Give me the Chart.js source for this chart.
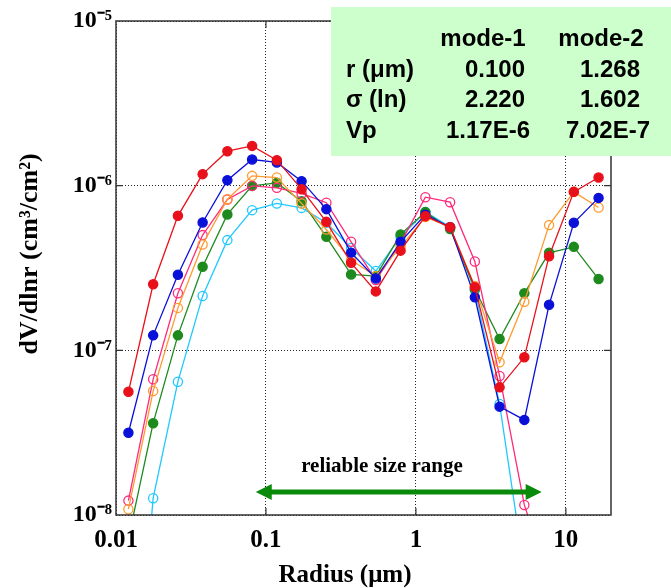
<!DOCTYPE html>
<html><head><meta charset="utf-8">
<script src="https://cdn.jsdelivr.net/npm/chart.js@4.4.1/dist/chart.umd.min.js"></script>
<style>html,body{margin:0;padding:0;background:#fff;}canvas{display:block;}</style>
</head><body>
<canvas id="c" width="671" height="588"></canvas>
<script>
// ---- data ----
const radius = [0.0121, 0.01769, 0.02587, 0.03782, 0.0553, 0.08086, 0.11823, 0.17288, 0.2528, 0.36964,
                0.54049, 0.79031, 1.1562, 1.6906, 2.472, 3.6147, 5.2855, 7.7286, 11.301, 16.525];
const seriesRed    = [5.6e-8, 2.52e-7, 6.56e-7, 1.175e-6, 1.62e-6, 1.744e-6, 1.428e-6, 9.52e-7, 6.03e-7, 3.40e-7,
                      2.28e-7, 4.03e-7, 6.53e-7, 5.60e-7, 2.42e-7, 5.96e-8, 9.07e-8, 3.73e-7, 9.17e-7, 1.12e-6];
const seriesBlue   = [3.16e-8, 1.233e-7, 2.88e-7, 5.98e-7, 1.08e-6, 1.442e-6, 1.383e-6, 1.065e-6, 7.20e-7, 3.92e-7,
                      2.73e-7, 4.56e-7, 6.67e-7, 5.60e-7, 2.10e-7, 4.55e-8, 3.78e-8, 1.89e-7, 5.95e-7, 8.43e-7];
const seriesOrange = [1.084e-8, 5.66e-8, 1.81e-7, 4.39e-7, 8.28e-7, 1.147e-6, 1.12e-6, 7.80e-7, 5.42e-7, 3.53e-7,
                      2.82e-7, 4.25e-7, 6.46e-7, 5.60e-7, 2.455e-7, 8.46e-8, 1.97e-7, 5.76e-7, 9.17e-7, 7.37e-7];
const seriesPink   = [1.223e-8, 6.67e-8, 2.22e-7, 5.01e-7, 8.25e-7, 9.97e-7, 9.70e-7, 8.97e-7, 7.88e-7, 4.56e-7,
                      2.67e-7, 4.48e-7, 8.51e-7, 7.94e-7, 3.46e-7, 6.98e-8, 1.151e-8, 4.0e-9, null, null];
const seriesGreen  = [7.2e-9, 3.61e-8, 1.233e-7, 3.22e-7, 6.69e-7, 9.97e-7, 1.04e-6, 8.05e-7, 4.89e-7, 2.89e-7,
                      2.82e-7, 5.06e-7, 6.91e-7, 5.45e-7, 2.36e-7, 1.171e-7, 2.22e-7, 3.91e-7, 4.25e-7, 2.71e-7];
const seriesCyan   = [2.0e-10, 1.265e-8, 6.45e-8, 2.14e-7, 4.67e-7, 7.10e-7, 7.80e-7, 7.33e-7, 5.95e-7, 4.18e-7,
                      3.03e-7, 4.89e-7, 6.93e-7, 5.62e-7, 2.32e-7, 4.72e-8, 4.6e-9, null, null, null];

const xTickValues = [0.01, 0.1, 1, 10];
const xTickLabels = ['0.01', '0.1', '1', '10'];
const yTickValues = [1e-8, 1e-7, 1e-6, 1e-5];
const yTickLabels = ['10\u207B\u2078', '10\u207B\u2077', '10\u207B\u2076', '10\u207B\u2075'];
const xTitle = 'Radius (\u03BCm)';
const yTitle = 'dV/dlnr (cm\u00B3/cm\u00B2)';

const tableHeader = ['mode-1', 'mode-2'];
const tableRowLabels = ['r (\u03BCm)', '\u03C3 (ln)', 'Vp'];
const tableMode1 = ['0.100', '2.220', '1.17E-6'];
const tableMode2 = ['1.268', '1.602', '7.02E-7'];

const arrowLabel = 'reliable size range';
const arrowRange = [0.0855, 6.9];
const arrowLevel = 1.38e-8;

// ---- build ----
function pts(arr) { return radius.map((r, i) => ({x: r, y: arr[i]})); }
function ds(label, arr, color, filled) {
  return {
    label, data: pts(arr), borderColor: color,
    backgroundColor: filled ? color : 'rgba(255,255,255,0)',
    pointBackgroundColor: filled ? color : 'rgba(255,255,255,0)',
    pointBorderColor: color, pointRadius: 4.6, pointBorderWidth: 1.3,
    borderWidth: 1.3, showLine: true, tension: 0, spanGaps: false
  };
}

const serifBold = "'Liberation Serif', 'Times New Roman', serif";
const sansBold = "'Liberation Sans', Arial, sans-serif";

const decorPlugin = {
  id: 'decor',
  afterDatasetsDraw(chart) {
    const {ctx, chartArea: a, scales: {x, y}} = chart;
    ctx.save();
    // frame
    ctx.strokeStyle = '#333'; ctx.lineWidth = 1.5; ctx.setLineDash([]);
    ctx.strokeRect(a.left, a.top, a.right - a.left, a.bottom - a.top);
    // inner tick marks
    ctx.lineWidth = 1.2;
    ctx.beginPath();
    xTickValues.forEach(v => {
      const px = x.getPixelForValue(v);
      if (px <= a.left + 1 || px >= a.right - 1) return;
      ctx.moveTo(px, a.bottom); ctx.lineTo(px, a.bottom - 7);
      ctx.moveTo(px, a.top); ctx.lineTo(px, a.top + 7);
    });
    yTickValues.forEach(v => {
      const py = y.getPixelForValue(v);
      if (py <= a.top + 1 || py >= a.bottom - 1) return;
      ctx.moveTo(a.left, py); ctx.lineTo(a.left + 7, py);
      ctx.moveTo(a.right, py); ctx.lineTo(a.right - 7, py);
    });
    ctx.stroke();

    // arrow
    const x1 = x.getPixelForValue(arrowRange[0]);
    const x2 = x.getPixelForValue(arrowRange[1]);
    const ay = y.getPixelForValue(arrowLevel);
    const green = '#0a8a0a';
    ctx.strokeStyle = green; ctx.fillStyle = green; ctx.lineWidth = 5;
    ctx.beginPath(); ctx.moveTo(x1 + 12, ay); ctx.lineTo(x2 - 12, ay); ctx.stroke();
    ctx.beginPath(); ctx.moveTo(x1, ay); ctx.lineTo(x1 + 16, ay - 8); ctx.lineTo(x1 + 16, ay + 8); ctx.closePath(); ctx.fill();
    ctx.beginPath(); ctx.moveTo(x2, ay); ctx.lineTo(x2 - 16, ay - 8); ctx.lineTo(x2 - 16, ay + 8); ctx.closePath(); ctx.fill();
    ctx.fillStyle = '#000';
    ctx.font = 'bold 21px ' + serifBold;
    ctx.textAlign = 'center'; ctx.textBaseline = 'alphabetic';
    ctx.fillText(arrowLabel, 382, 472);
    ctx.restore();
  },
  afterDraw(chart) {
    const {ctx} = chart;
    ctx.save();
    // axis titles
    ctx.fillStyle = '#000';
    ctx.font = 'bold 25px ' + serifBold;
    ctx.textAlign = 'center'; ctx.textBaseline = 'alphabetic';
    ctx.fillText(xTitle, 345, 582);
    ctx.save();
    ctx.translate(37, 254);
    ctx.rotate(-Math.PI / 2);
    ctx.font = 'bold 26px ' + serifBold;
    ctx.fillText(yTitle, 0, 0);
    ctx.restore();

    // table box
    ctx.fillStyle = '#ccffcc';
    ctx.fillRect(331, 7, 340, 149);
    ctx.fillStyle = '#000';
    ctx.font = 'bold 24px ' + sansBold;
    const base = [46, 77, 107, 138];
    ctx.textAlign = 'center';
    ctx.fillText(tableHeader[0], 483, base[0]);
    ctx.fillText(tableHeader[1], 601, base[0]);
    const c1 = [495, 495, 488], c2 = [610, 610, 608];
    for (let i = 0; i < 3; i++) {
      ctx.textAlign = 'left';
      ctx.fillText(tableRowLabels[i], 346, base[i + 1]);
      ctx.textAlign = 'center';
      ctx.fillText(tableMode1[i], c1[i], base[i + 1]);
      ctx.fillText(tableMode2[i], c2[i], base[i + 1]);
    }
    ctx.restore();
  }
};

new Chart(document.getElementById('c'), {
  type: 'scatter',
  data: {
    datasets: [
      ds('red', seriesRed, '#e8101a', true),
      ds('blue', seriesBlue, '#0a10d8', true),
      ds('orange', seriesOrange, '#ff9a30', false),
      ds('pink', seriesPink, '#ff2a7a', false),
      ds('green', seriesGreen, '#1e8a1e', true),
      ds('cyan', seriesCyan, '#20c8ff', false)
    ]
  },
  options: {
    responsive: false, animation: false, devicePixelRatio: 1,
    layout: {padding: {left: 0, top: 21, right: 60, bottom: 0}},
    plugins: {legend: {display: false}, tooltip: {enabled: false}},
    scales: {
      x: {
        type: 'logarithmic', min: 0.01, max: 20, position: 'bottom',
        afterBuildTicks: s => { s.ticks = xTickValues.map(v => ({value: v})); },
        afterFit: s => { s.height = 73; },
        ticks: {
          autoSkip: false, maxRotation: 0, padding: 11, color: '#000',
          font: {family: serifBold, size: 25, weight: 'bold'},
          callback: v => { const i = xTickValues.indexOf(v); return i >= 0 ? xTickLabels[i] : ''; }
        },
        grid: {color: 'rgba(0,0,0,0.85)', lineWidth: 1, drawTicks: false},
        border: {display: false, dash: [1, 2]},
        title: {display: false}
      },
      y: {
        type: 'logarithmic', min: 1e-8, max: 1e-5, position: 'left',
        afterBuildTicks: s => { s.ticks = yTickValues.map(v => ({value: v})); },
        afterFit: s => { s.width = 116; },
        ticks: {
          autoSkip: false, padding: 4, color: '#000',
          font: {family: serifBold, size: 24, weight: 'bold'},
          callback: v => { const i = yTickValues.indexOf(v); return i >= 0 ? yTickLabels[i] : ''; }
        },
        grid: {color: 'rgba(0,0,0,0.85)', lineWidth: 1, drawTicks: false},
        border: {display: false, dash: [1, 2]},
        title: {display: false}
      }
    }
  },
  plugins: [decorPlugin]
});
</script>
</body></html>
